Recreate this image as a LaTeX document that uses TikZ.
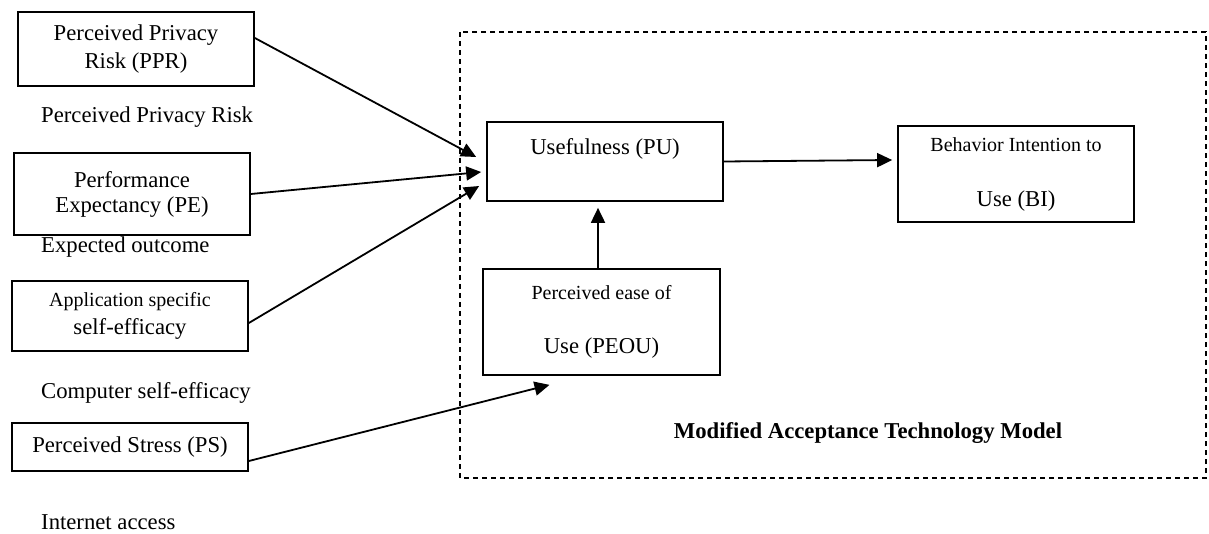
\documentclass[tikz,border=0pt]{standalone}
\usepackage{fontspec}
\setmainfont{Liberation Serif}
\usetikzlibrary{arrows.meta}
\newcommand{\boxsmall}{\fontsize{20}{28}\selectfont}

\begin{document}
\begin{tikzpicture}[x=1pt,y=-1pt,
    box/.style={draw, line width=1.7pt, inner sep=0pt, align=center,
        minimum width=236pt, font=\fontsize{22.7}{28}\selectfont},
    note/.style={anchor=base west, inner sep=0pt, font=\fontsize{22.7}{28}\selectfont},
    arr/.style={line width=1.8pt, -{Triangle[length=15pt,width=14pt]}}]
        \useasboundingbox (0,0) rectangle (1209,534);
        % model frame
        \draw[line width=1.4pt, dash pattern=on 5pt off 4pt] (460,32) rectangle (1206,478);
        \node[anchor=base, inner sep=0pt, font=\bfseries\fontsize{22.7}{28}\selectfont] (mtitle) at (868,438) {Modified Acceptance Technology Model};
        % external factors
        \node[box, minimum height=74pt] (ppr) at (136,49) {Perceived Privacy\\Risk (PPR)};
        \node[box, minimum height=82pt] (pe) at (132,194) {Performance\\[-3pt]Expectancy (PE)};
        \node[box, minimum height=70pt] (ase) at (130,316) {{\boxsmall Application specific}\\self-efficacy};
        \node[box, minimum height=48pt] (ps) at (130,447) {Perceived Stress (PS)};
        \node[note] (nppr) at (41,123) {Perceived Privacy Risk};
        \node[note] (npe) at (41,253) {Expected outcome};
        \node[note] (nase) at (41,398) {Computer self-efficacy};
        \node[note] (nps) at (41,529) {Internet access};
        % model
        \node[box, minimum height=79pt, text height=16pt, text depth=29pt] (pu) at (605,161.5) {Usefulness (PU)};
        \node[box, minimum height=96pt] (bi) at (1016,174) {{\boxsmall Behavior Intention to}\\[27pt]Use (BI)};
        \node[box, minimum width=237pt, minimum height=106pt] (peou) at (601.5,322) {{\boxsmall Perceived ease of}\\[26pt]Use (PEOU)};
        % arrows
        \draw[arr] ([yshift=11pt]ppr.east) -- ([xshift=-10pt,yshift=4.5pt]pu.west);
        \draw[arr] (pe.east) -- ([xshift=-5pt,yshift=-10.5pt]pu.west);
        \draw[arr] ([yshift=-7pt]ase.east) -- ([xshift=-7pt,yshift=-24.5pt]pu.west);
        \draw[arr] ([yshift=-14pt]ps.east) -- ([xshift=-52pt,yshift=-9pt]peou.south);
        \draw[arr] ([xshift=-3.5pt]peou.north) -- ([xshift=-7pt,yshift=-6pt]pu.south);
        \draw[arr] (pu.east) -- ([xshift=-5pt,yshift=14pt]bi.west);
    \end{tikzpicture}
\end{document}
